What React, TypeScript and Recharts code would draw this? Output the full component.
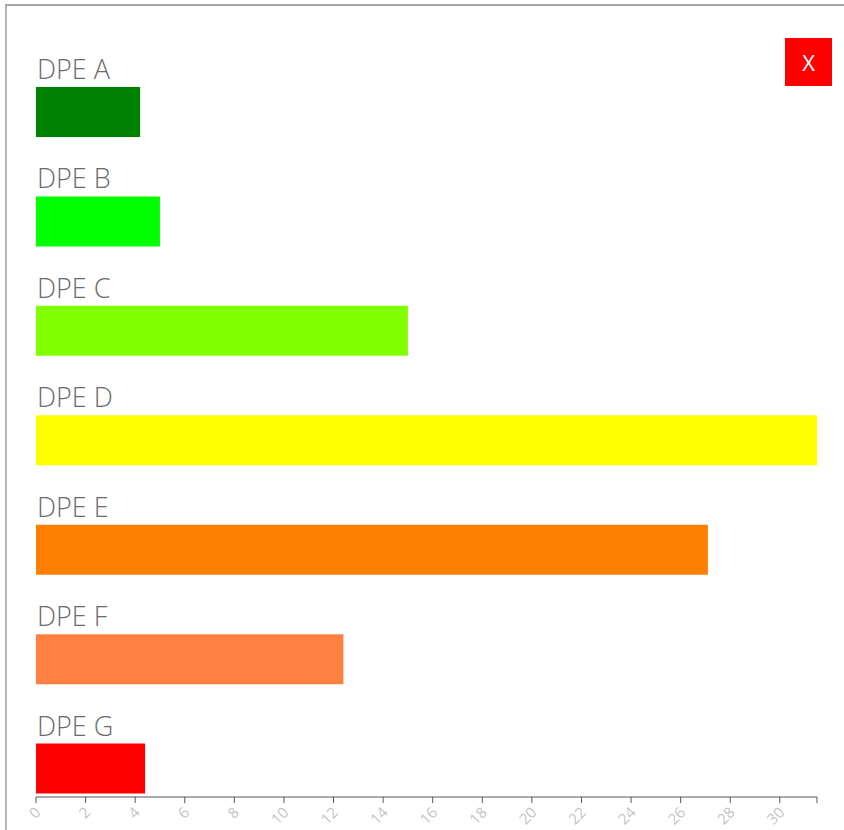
import { BarChart, Bar, XAxis, YAxis, Cell, LabelList } from 'recharts';

// Répartition des DPE (en %)
const CLASSES = ['DPE A', 'DPE B', 'DPE C', 'DPE D', 'DPE E', 'DPE F', 'DPE G'];
const VALUES = [4.2, 5.0, 15.0, 31.5, 27.1, 12.4, 4.4];
const COLORS = ['#008000', '#00ff00', '#80ff00', '#ffff00', '#ff8000', '#ff8040', '#ff0000'];
const TICKS = [0, 2, 4, 6, 8, 10, 12, 14, 16, 18, 20, 22, 24, 26, 28, 30, 31.5];

const data = CLASSES.map((name, i) => ({ name, value: VALUES[i] }));
const MAX = Math.max(...VALUES);

function RotatedTick(props: any) {
  const { x, y, payload } = props;
  if (payload.value === MAX) return null;
  return (
    <g transform={`translate(${x},${y})`}>
      <text
        transform="rotate(-45)"
        textAnchor="end"
        dx={-2}
        dy={10}
        fill="#c4c4c4"
        fontSize={15}
        fontFamily="'Open Sans', sans-serif"
      >
        {payload.value}
      </text>
    </g>
  );
}

function ClassLabel(props: any) {
  const { x, y, value } = props;
  return (
    <text
      x={x + 1}
      y={y - 8}
      fill="#6b6b6b"
      fontSize={27}
      fontWeight={300}
      fontFamily="'Open Sans', sans-serif"
    >
      {value}
    </text>
  );
}

export default function App() {
  return (
    <div style={{ position: 'absolute', left: 0, top: 0, width: 844, height: 830, background: '#fff', overflow: 'hidden' }}>
      <div
        style={{
          position: 'absolute',
          left: 5,
          top: 4,
          width: 850,
          height: 840,
          borderTop: '2px solid #a4a4a4',
          borderLeft: '2px solid #b4b4b4',
        }}
      />
      <BarChart
        width={844}
        height={830}
        data={data}
        layout="vertical"
        margin={{ top: 57, right: 27, bottom: 32, left: 36 }}
        style={{ position: 'absolute', left: 0, top: 0 }}
      >
        <XAxis
          type="number"
          domain={[0, MAX]}
          ticks={TICKS}
          interval={0}
          height={1}
          stroke="#555"
          tickSize={6}
          tick={<RotatedTick />}
        />
        <YAxis type="category" dataKey="name" hide padding={{ top: 0, bottom: -26 }} />
        <Bar dataKey="value" barSize={50} isAnimationActive={false}>
          {data.map((d, i) => (
            <Cell key={d.name} fill={COLORS[i]} />
          ))}
          <LabelList dataKey="name" content={<ClassLabel />} />
        </Bar>
      </BarChart>
      <div
        style={{
          position: 'absolute',
          left: 785,
          top: 38,
          width: 47,
          height: 48,
          background: '#ff0000',
          color: '#fff',
          fontFamily: "'Open Sans', sans-serif",
          fontSize: 22,
          display: 'flex',
          alignItems: 'center',
          justifyContent: 'center',
        }}
      >
        X
      </div>
    </div>
  );
}
